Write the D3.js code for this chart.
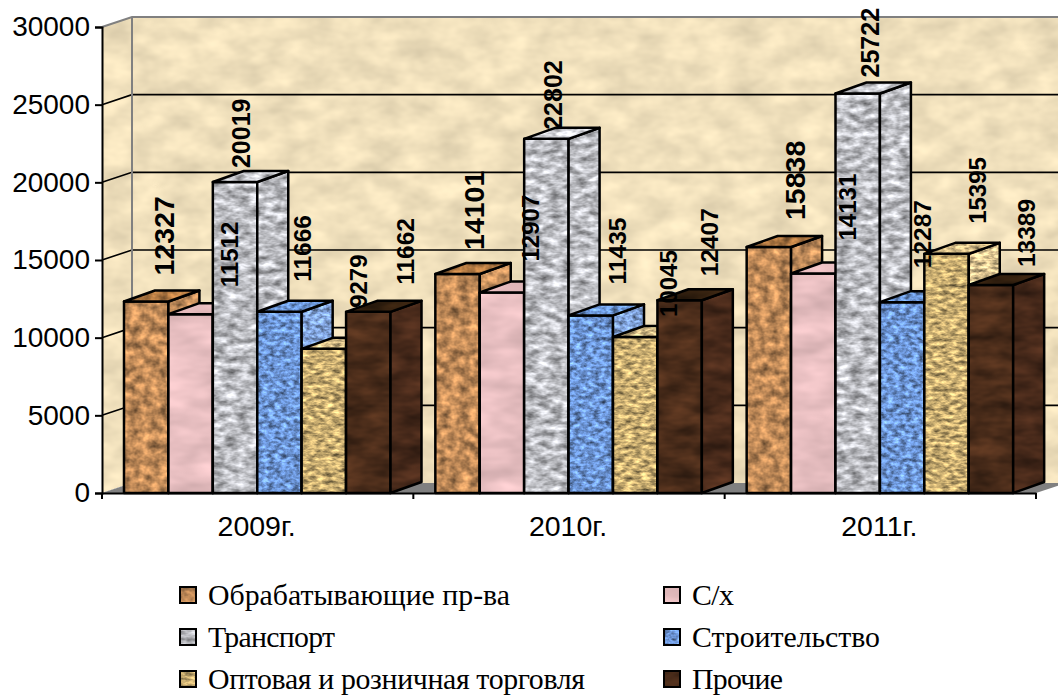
<!DOCTYPE html>
<html><head><meta charset="utf-8">
<script src="https://cdn.jsdelivr.net/npm/d3@7"></script>
<style>html,body{margin:0;background:#fff}svg{display:block}</style></head>
<body><div id="c"></div>
<script>
const years = ["2009г.","2010г.","2011г."];
const seriesNames = ["Обрабатывающие пр-ва","С/х","Транспорт","Строительство","Оптовая и розничная торговля","Прочие"];
const processing = [12327,14101,15838];
const agriculture = [11512,12907,14131];
const transport = [20019,22802,25722];
const construction = [11666,11435,12287];
const trade = [9279,10045,15395];
const other = [11662,12407,13389];
const yTicks = [0,5000,10000,15000,20000,25000,30000];

const values = [processing,agriculture,transport,construction,trade,other];
const W=1058,H=695;
const plotL=102,plotR=1036,plotB=493,plotT=27,wdx=30,wdy=10,bdx=31,bdy=11;
const styles=[
 {c:"#c08a58",f:"0.10 0.12",k:[1.2,0.4],top:"#a9733f",side:"#c48e5c",lab:28.5},
 {c:"#e8bfc1",f:"0.02 0.05",k:[0.3,0.85],top:"#e7bcbe",side:"#e8bfc1",lab:24},
 {c:"#bcbdc2",f:"0.08 0.16",k:[1.2,0.4],top:"#d0d1d6",side:"#bcbdc2",lab:25},
 {c:"#6a92d2",f:"0.16 0.24",k:[1.5,0.27],top:"#6892d2",side:"#80a2da",lab:24.5},
 {c:"#c4a96e",f:"0.12 0.26",k:[1.5,0.27],top:"#d0b884",side:"#d8c08e",lab:24},
 {c:"#4a2c1a",f:"0.03 0.07",k:[1.1,0.45],top:"#33200f",side:"#47291a",lab:24.5}];
const labelDx=[[18,16,26],[39,28,34],[6,6.5,12],[23,26,20],[34,33,31],[37,30,35]];
const labelDy=[[-26,-24,-27],[-27,-31,-33],[-14,-9,-16],[-30,-31,-34],[-41,-20,-30],[-27,-24,-18]];
const legendWidths=[302,42,127,188,377,91];

const svg=d3.select("#c").append("svg").attr("width",W).attr("height",H);
const defs=svg.append("defs");
function tex(id,f,k,seed){
  const fl=defs.append("filter").attr("id",id).attr("x",0).attr("y",0).attr("width",1).attr("height",1)
    .attr("color-interpolation-filters","sRGB");
  fl.append("feTurbulence").attr("type","fractalNoise").attr("baseFrequency",f).attr("numOctaves",3).attr("seed",seed).attr("result","n");
  fl.append("feColorMatrix").attr("in","n").attr("type","matrix")
    .attr("values","1 0 0 0 0 1 0 0 0 0 1 0 0 0 0 0 0 0 0 1").attr("result","g");
  fl.append("feComposite").attr("in","SourceGraphic").attr("in2","g").attr("operator","arithmetic")
    .attr("k1",k[0]).attr("k2",k[1]).attr("k3",0).attr("k4",0).attr("result","m");
  fl.append("feComposite").attr("in","m").attr("in2","SourceAlpha").attr("operator","in");
}
styles.forEach((s,i)=>tex("t"+i,s.f,s.k,i+3));
tex("wall","0.03 0.05",[0.22,0.89],9);

const y=d3.scaleLinear().domain([0,30000]).range([plotB,plotT]);
const x0=d3.scaleBand().domain(years).range([plotL,plotR]);
const x1=d3.scaleBand().domain(seriesNames).range([22,288.5]);
const poly=p=>"M"+p.map(a=>a.join(",")).join("L")+"Z";

// walls
const yB=y(30000)-wdy, xB=plotL+wdx, xE=plotR+wdx;
svg.append("path").attr("d",poly([[xB,yB],[xE,yB],[xE,plotB-wdy],[xB,plotB-wdy]])).attr("fill","#f0e0bc").attr("filter","url(#wall)");
svg.append("path").attr("d",poly([[plotL,y(30000)],[xB,yB],[xB,plotB-wdy],[plotL,plotB]])).attr("fill","#f0e0bc").attr("filter","url(#wall)");
svg.append("path").attr("d",poly([[plotL,plotB],[xB,plotB-wdy],[xE,plotB-wdy],[plotR,plotB]])).attr("fill","#808080");
yTicks.filter(t=>t>0&&t<30000).forEach(t=>{
  svg.append("path").attr("d",`M${plotL},${y(t)}L${xB},${y(t)-wdy}L${xE},${y(t)-wdy}`).attr("fill","none").attr("stroke","#000").attr("stroke-width",1.6);
});
svg.append("path").attr("d",`M${plotL},${y(30000)}L${xB},${yB}L${xE},${yB}M${xB},${yB}V${plotB-wdy}`).attr("fill","none").attr("stroke","#808080").attr("stroke-width",2);

// bars
years.forEach((yr,g)=>{
  seriesNames.forEach((n,i)=>{
    const v=values[i][g], s=styles[i];
    const a=x0(yr)+x1(n), b=a+x1.bandwidth(), t=y(v);
    const G=svg.append("g");
    const faces=[
      [[[a,plotB],[a,t],[b,t],[b,plotB]],s.c],
      [[[b,plotB],[b,t],[b+bdx,t-bdy],[b+bdx,plotB-bdy]],s.side],
      [[[a,t],[a+bdx,t-bdy],[b+bdx,t-bdy],[b,t]],s.top]];
    faces.forEach(([p,col])=>{
      G.append("path").attr("d",poly(p)).attr("fill",col).attr("filter",`url(#t${i})`);
      G.append("path").attr("d",poly(p)).attr("fill","none").attr("stroke","#000").attr("stroke-width",2.5).attr("stroke-linejoin","round");
    });
  });
});

// axes
const ax=svg.append("g").attr("transform",`translate(${plotL},0)`)
  .call(d3.axisLeft(y).tickValues(yTicks).tickFormat(d3.format("d")).tickSize(7).tickPadding(5));
ax.selectAll("path,line").attr("stroke","#000").attr("stroke-width",2);
ax.selectAll("text").attr("font-family","'Liberation Sans'").attr("font-size",28).attr("fill","#000");
const bx=svg.append("g").attr("transform",`translate(0,${plotB})`)
  .call(d3.axisBottom(x0).tickSize(0).tickPadding(23));
bx.select("path").attr("stroke","#000").attr("stroke-width",2);
bx.selectAll("text").attr("font-family","'Liberation Sans'").attr("font-size",28.5).attr("fill","#000").attr("dx",-1);
[...years.map(d=>x0(d)),plotR].forEach(px=>svg.append("line").attr("x1",px).attr("x2",px).attr("y1",plotB).attr("y2",plotB+6).attr("stroke","#000").attr("stroke-width",2));

// value labels
years.forEach((yr,g)=>seriesNames.forEach((n,i)=>{
  const v=values[i][g], size=styles[i].lab;
  const cx=x0(yr)+x1(n)+x1.bandwidth()/2+labelDx[i][g]+size*0.36;
  svg.append("text").attr("transform",`translate(${cx},${y(v)+labelDy[i][g]}) rotate(-90)`)
    .attr("font-family","'Liberation Sans'").attr("font-weight","bold").attr("font-size",size).attr("fill","#000").text(v);
}));

// legend
const lx=[180,664], ly=[595,637,679];
seriesNames.forEach((n,i)=>{
  const col=i%2, row=(i-col)/2;
  svg.append("rect").attr("x",lx[col]).attr("y",ly[row]-8).attr("width",16).attr("height",16)
    .attr("fill",styles[i].c).attr("filter",`url(#t${i})`);
  svg.append("rect").attr("x",lx[col]).attr("y",ly[row]-8).attr("width",16).attr("height",16)
    .attr("fill","none").attr("stroke","#000").attr("stroke-width",2);
  svg.append("text").attr("x",lx[col]+28).attr("y",ly[row]+10).attr("font-family","'Liberation Serif'").attr("font-size",29.8)
    .attr("textLength",legendWidths[i]).attr("lengthAdjust","spacing").attr("fill","#000").text(n);
});
</script></body></html>
